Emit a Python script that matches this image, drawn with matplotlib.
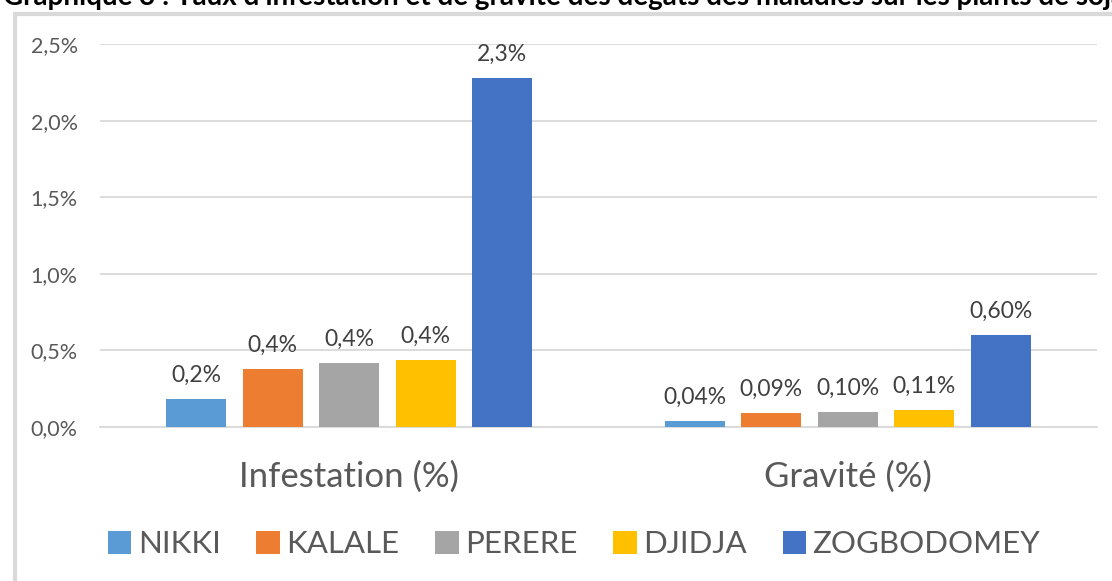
import matplotlib
matplotlib.use("Agg")
import matplotlib.pyplot as plt
from matplotlib.patches import Rectangle, Patch
import numpy as np

plt.rcParams['font.family'] = ['Lato', 'DejaVu Sans']

categories = ["Infestation (%)", "Gravité (%)"]
series = ["NIKKI", "KALALE", "PERERE", "DJIDJA", "ZOGBODOMEY"]
infestation = [0.18, 0.38, 0.42, 0.44, 2.28]
gravite = [0.04, 0.09, 0.10, 0.11, 0.60]
decimals = [1, 2]
colors = ["#5B9BD5", "#ED7D31", "#A5A5A5", "#FFC000", "#4472C4"]
yticks = [0.0, 0.5, 1.0, 1.5, 2.0, 2.5]
title = "Graphique 3 : Taux d'infestation et de gravité des dégats des maladies sur les plants de soja"

W, H = 1112, 581
fig = plt.figure(figsize=(W / 100, H / 100), dpi=100)

# chart frame
fig.patches.append(Rectangle((15 / W, -0.1), 1.2, (H - 14) / H + 0.1, transform=fig.transFigure,
                             fill=False, edgecolor="#D9D9D9", linewidth=3.0, zorder=0))

fig.text(3 / W, 1 - 5 / H, title, fontsize=20, fontweight='bold', color='black',
         ha='left', va='baseline')

ax = fig.add_axes([100 / W, (H - 427) / H, 997 / W, 383 / H])
values = np.array([infestation, gravite]).T  # rows: series
x = np.arange(len(categories))
step = 0.1535
width = 0.121
for i, (name, col) in enumerate(zip(series, colors)):
    pos = x + (i - 2) * step
    bars = ax.bar(pos, values[i], width=width, color=col, label=name, zorder=3)
    for j, b in enumerate(bars):
        v = values[i][j]
        lab = f"{v:.{decimals[j]}f}%".replace('.', ',')
        ax.annotate(lab, (b.get_x() + b.get_width() / 2, v), xytext=(0, 9.5),
                    textcoords='offset points', ha='center', va='bottom',
                    fontsize=16.5, color='#404040')

ax.set_xlim(-0.5, 1.5)
ax.set_ylim(0, 2.5)
ax.set_yticks(yticks)
ax.set_yticklabels([f"{t:.1f}%".replace('.', ',') for t in yticks], fontsize=15.5, color='#595959')
ax.set_xticks(x)
ax.set_xticklabels(categories, fontsize=25, color='#595959')
ax.tick_params(axis='both', length=0)
ax.tick_params(axis='y', pad=16)
ax.tick_params(axis='x', pad=24)
ax.grid(axis='y', color='#D9D9D9', linewidth=1.3, zorder=0)
for s in ['top', 'right', 'left']:
    ax.spines[s].set_visible(False)
ax.spines['bottom'].set_color('#D9D9D9')
ax.spines['bottom'].set_linewidth(1.3)

handles = [Patch(facecolor=c, label=n) for n, c in zip(series, colors)]
fig.legend(handles=handles, loc='center', bbox_to_anchor=(574 / W, 1 - 544 / H), ncol=5,
           frameon=False, fontsize=22.5, labelcolor='#595959', handlelength=0.75, handleheight=0.75,
           handletextpad=0.2, columnspacing=1.15)

fig.savefig("out.png", dpi=100)
